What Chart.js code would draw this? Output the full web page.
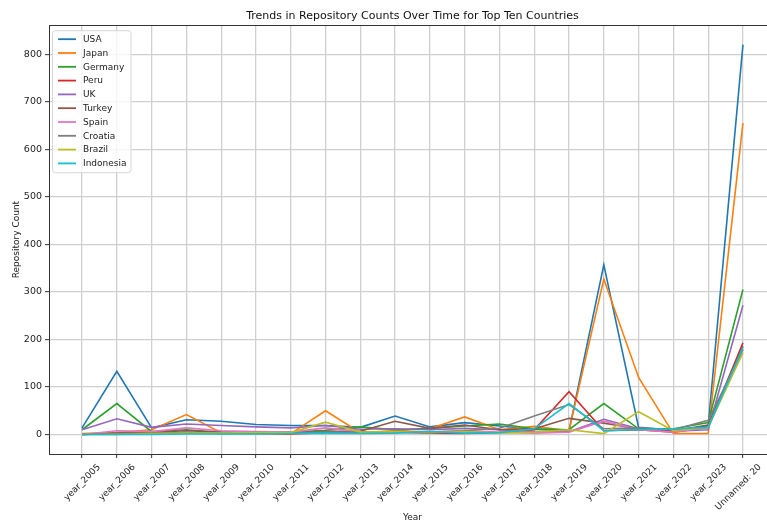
<!DOCTYPE html>
<html>
<head>
<meta charset="utf-8">
<script src="https://cdn.jsdelivr.net/npm/chart.js@4.4.1/dist/chart.umd.min.js"></script>
<style>
  html, body { margin: 0; padding: 0; background: #fff; overflow: hidden; }
  #wrap { width: 767px; height: 521px; overflow: hidden; }
</style>
</head>
<body>
<div id="wrap"><canvas id="chart" width="800" height="521"></canvas></div>
<script>
// Periods on the x axis
const categories = [
  'year_2005', 'year_2006', 'year_2007', 'year_2008', 'year_2009', 'year_2010',
  'year_2011', 'year_2012', 'year_2013', 'year_2014', 'year_2015', 'year_2016',
  'year_2017', 'year_2018', 'year_2019', 'year_2020', 'year_2021', 'year_2022',
  'year_2023', 'Unnamed: 20'
];

// Repository counts per country
const usa       = [14, 133, 14, 31, 28, 21, 19, 19, 15, 39, 16, 25, 18, 11, 8, 357, 15, 9, 18, 820];
const japan     = [2, 4, 10, 42, 4, 4, 2, 50, 4, 8, 12, 37, 10, 17, 8, 327, 120, 2, 2, 655];
const germany   = [10, 65, 6, 10, 4, 5, 5, 9, 16, 10, 13, 18, 22, 12, 10, 65, 12, 12, 25, 305];
const peru      = [0, 2, 3, 4, 2, 2, 1, 4, 3, 5, 3, 2, 4, 10, 90, 8, 10, 5, 15, 193];
const uk        = [10, 33, 15, 22, 19, 16, 14, 19, 11, 12, 10, 13, 10, 6, 6, 32, 12, 7, 10, 272];
const turkey    = [0, 3, 5, 8, 5, 4, 3, 7, 7, 28, 13, 20, 10, 12, 34, 24, 12, 8, 20, 186];
const spain     = [0, 8, 6, 14, 8, 6, 5, 14, 6, 5, 5, 8, 5, 3, 5, 28, 10, 5, 15, 180];
const croatia   = [0, 2, 3, 4, 3, 4, 3, 5, 5, 6, 5, 8, 13, 39, 63, 12, 14, 10, 30, 178];
const brazil    = [0, 0, 2, 3, 3, 4, 4, 26, 5, 6, 4, 6, 3, 5, 10, 2, 48, 8, 15, 172];
const indonesia = [0, 0, 0, 1, 1, 1, 2, 3, 2, 3, 6, 3, 4, 12, 65, 8, 10, 12, 15, 183];

const countries = ['USA', 'Japan', 'Germany', 'Peru', 'UK', 'Turkey', 'Spain', 'Croatia', 'Brazil', 'Indonesia'];
const series = [usa, japan, germany, peru, uk, turkey, spain, croatia, brazil, indonesia];

// Y axis tick values
const yTicks = [0, 100, 200, 300, 400, 500, 600, 700, 800];

const palette = ['#1f77b4', '#ff7f0e', '#2ca02c', '#d62728', '#9467bd',
                 '#8c564b', '#e377c2', '#7f7f7f', '#bcbd22', '#17becf'];

const FONT = 'DejaVu Sans';
Chart.defaults.font.family = FONT;
Chart.defaults.color = '#222';

const datasets = countries.map((name, i) => ({
  label: name,
  data: series[i].map((v, k) => ({ x: k, y: v })),
  borderColor: palette[i],
  backgroundColor: palette[i],
  borderWidth: 1.6,
  pointRadius: 0,
  pointHoverRadius: 0,
  tension: 0,
  // later series are painted above earlier ones
  order: countries.length - i
}));

// Closes the axes box on the top and right sides
const framePlugin = {
  id: 'frame',
  afterDatasetsDraw(chart) {
    const { ctx, chartArea: a } = chart;
    const l = Math.round(a.left) + 0.5, t = Math.round(a.top) + 0.5;
    const r = Math.round(a.right) + 0.5, b = Math.round(a.bottom) + 0.5;
    ctx.save();
    ctx.strokeStyle = '#333';
    ctx.lineWidth = 1;
    ctx.strokeRect(l, t, r - l, b - t);
    ctx.restore();
  }
};

// Boxed legend in the upper-left corner of the plot
const boxLegendPlugin = {
  id: 'boxLegend',
  afterDatasetsDraw(chart) {
    const { ctx, chartArea: a } = chart;
    const sets = chart.data.datasets;
    const fs = 9, rowH = 13.8;
    const bx = a.left + 3, by = a.top + 5;
    ctx.save();
    ctx.font = fs + 'px "' + FONT + '"';
    const textW = Math.max(...sets.map(d => ctx.measureText(d.label).width));
    const lineX0 = bx + 6, lineX1 = bx + 24, textX = bx + 31;
    const bw = textX - bx + textW + 4;
    const bh = rowH * sets.length + 4;
    ctx.beginPath();
    ctx.roundRect(bx + 0.5, by + 0.5, bw, bh, 3);
    ctx.fillStyle = 'rgba(255,255,255,0.8)';
    ctx.fill();
    ctx.strokeStyle = '#d6d6d6';
    ctx.lineWidth = 1;
    ctx.stroke();
    sets.forEach((d, i) => {
      const cy = by + 9 + i * rowH;
      ctx.beginPath();
      ctx.moveTo(lineX0, cy);
      ctx.lineTo(lineX1, cy);
      ctx.strokeStyle = d.borderColor;
      ctx.lineWidth = 1.8;
      ctx.stroke();
      ctx.fillStyle = '#222';
      ctx.textBaseline = 'middle';
      ctx.textAlign = 'left';
      ctx.fillText(d.label, textX, cy + 0.5);
    });
    ctx.restore();
  }
};

const gridOpts = { color: '#cfcfcf', lineWidth: 1.3, tickColor: '#333', tickLength: 4, tickWidth: 1 };

new Chart(document.getElementById('chart'), {
  type: 'line',
  data: { datasets },
  options: {
    responsive: false,
    animation: false,
    devicePixelRatio: 1,
    layout: { padding: { left: 0, right: 24, top: 0, bottom: 0 } },
    plugins: {
      legend: { display: false },
      tooltip: { enabled: false },
      title: {
        display: true,
        fullSize: false,
        text: 'Trends in Repository Counts Over Time for Top Ten Countries',
        font: { size: 11, weight: 'normal' },
        color: '#111',
        padding: { top: 10, bottom: 2 }
      }
    },
    scales: {
      x: {
        type: 'linear',
        min: -0.95,
        max: 19.95,
        afterBuildTicks: s => { s.ticks = categories.map((_, k) => ({ value: k })); },
        afterFit: s => { s.height = 67; },
        ticks: {
          callback: v => categories[v],
          autoSkip: false,
          minRotation: 45,
          maxRotation: 45,
          labelOffset: 17,
          padding: 4,
          font: { size: 9 },
          color: '#222'
        },
        grid: gridOpts,
        border: { color: '#333', width: 1 },
        title: { display: true, text: 'Year', font: { size: 9 }, color: '#222', padding: { top: 0, bottom: -2 } }
      },
      y: {
        min: -41,
        max: 861,
        afterBuildTicks: s => { s.ticks = yTicks.map(v => ({ value: v })); },
        afterFit: s => { s.width = 49; },
        ticks: { padding: 3, font: { size: 9.5 }, color: '#222' },
        grid: gridOpts,
        border: { color: '#333', width: 1 },
        title: { display: true, text: 'Repository Count', font: { size: 9 }, color: '#222', padding: { top: 11, bottom: 0 } }
      }
    }
  },
  plugins: [framePlugin, boxLegendPlugin]
});
</script>
</body>
</html>
